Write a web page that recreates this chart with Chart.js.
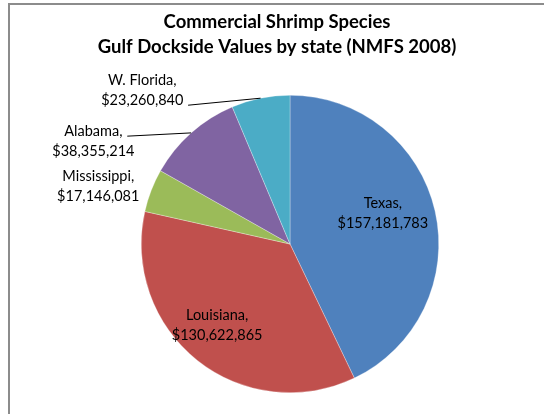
<!DOCTYPE html>
<html>
<head>
<meta charset="utf-8">
<script src="https://cdn.jsdelivr.net/npm/chart.js@4/dist/chart.umd.min.js"></script>
<style>
  html, body { margin: 0; padding: 0; background: #fff; }
  #wrap { width: 544px; height: 414px; position: relative; }
  canvas { display: block; }
</style>
</head>
<body>
<div id="wrap"><canvas id="c" width="544" height="414"></canvas></div>
<script>
// ---- data ----
const states = ["Texas", "Louisiana", "Mississippi", "Alabama", "W. Florida"];
const dockValues = [157181783, 130622865, 17146081, 38355214, 23260840];
const titleLines = ["Commercial Shrimp Species", "Gulf Dockside Values by state (NMFS 2008)"];

// ---- styles ----
const sliceColors = ["#4F81BD", "#C0504D", "#9BBB59", "#8064A2", "#4BACC6"];
// label block centres, relative to pie centre in units of radius
const labelOffsets = [[0.624, -0.208], [-0.490, 0.550], [-1.289, -0.389], [-1.322, -0.691], [-0.993, -1.030]];
// leader line start points (null = no leader), relative to pie centre in radius units
const leaderStarts = [null, null, null, [-1.094, -0.725], [-0.685, -0.933]];

const fmt = v => "$" + v.toLocaleString("en-US");
const LABEL_FONT = "14.5px Lato, 'Open Sans', sans-serif";
const TITLE_FONT = "bold 18.5px Lato, 'Open Sans', sans-serif";

const decor = {
  id: "decor",
  beforeDraw(chart) {
    const ctx = chart.ctx;
    ctx.save();
    ctx.fillStyle = "#fff";
    ctx.fillRect(0, 0, chart.width, chart.height);
    ctx.strokeStyle = "#8c8c8c";
    ctx.lineWidth = 2;
    ctx.beginPath();
    ctx.moveTo(9, chart.height);
    ctx.lineTo(9, 4);
    ctx.lineTo(chart.width, 4);
    ctx.stroke();
    // title
    ctx.fillStyle = "#000";
    ctx.font = TITLE_FONT;
    ctx.textAlign = "center";
    ctx.textBaseline = "middle";
    titleLines.forEach((t, i) => ctx.fillText(t, 277, 22 + i * 25));
    ctx.restore();
  },
  afterDraw(chart) {
    const ctx = chart.ctx;
    const meta = chart.getDatasetMeta(0);
    ctx.save();
    ctx.font = LABEL_FONT;
    ctx.fillStyle = "#000";
    ctx.textAlign = "center";
    ctx.textBaseline = "middle";
    meta.data.forEach((arc, i) => {
      const r = arc.outerRadius, cx = arc.x, cy = arc.y;
      const mid = (arc.startAngle + arc.endAngle) / 2;
      const lx = cx + labelOffsets[i][0] * r;
      const ly = cy + labelOffsets[i][1] * r;
      ctx.fillText(states[i] + ",", lx, ly - 10);
      ctx.fillText(fmt(dockValues[i]), lx, ly + 10);
      if (leaderStarts[i]) {
        ctx.strokeStyle = "#000";
        ctx.lineWidth = 1;
        ctx.beginPath();
        ctx.moveTo(cx + leaderStarts[i][0] * r, cy + leaderStarts[i][1] * r);
        ctx.lineTo(cx + Math.cos(mid) * r, cy + Math.sin(mid) * r);
        ctx.stroke();
      }
    });
    ctx.restore();
  }
};

new Chart(document.getElementById("c"), {
  type: "pie",
  data: {
    labels: states,
    datasets: [{
      data: dockValues,
      backgroundColor: sliceColors,
      borderColor: "rgba(255,255,255,0.6)",
      borderWidth: 0.5
    }]
  },
  options: {
    responsive: false,
    animation: false,
    devicePixelRatio: 1,
    layout: { padding: { left: 141, right: 105, top: 95, bottom: 21 } },
    plugins: {
      legend: { display: false },
      title: { display: false },
      tooltip: { enabled: false }
    }
  },
  plugins: [decor]
});
</script>
</body>
</html>
